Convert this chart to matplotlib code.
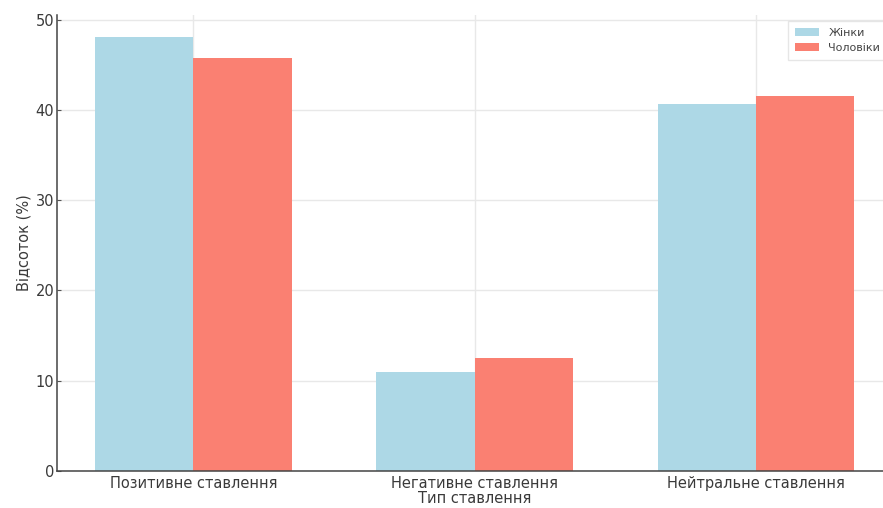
import matplotlib
matplotlib.use("Agg")
import matplotlib.pyplot as plt
import numpy as np

categories = ["Позитивне ставлення", "Негативне ставлення", "Нейтральне ставлення"]
women = [48.1, 11.0, 40.7]
men = [45.8, 12.5, 41.6]
series_names = ["Жінки", "Чоловіки"]

fig = plt.figure(figsize=(8.83, 5.08), dpi=100)
ax = fig.add_axes([0.0646, 0.0735, 0.946, 0.896])

x = np.arange(len(categories))
w = 0.35
ax.bar(x - w / 2, women, w, color="#ADD8E6", label=series_names[0], zorder=2)
ax.bar(x + w / 2, men, w, color="#FA8072", label=series_names[1], zorder=2)

ax.set_xticks(x)
ax.set_xticklabels(categories, fontsize=10.5, color="#3a3a3a")
ax.tick_params(axis="y", labelsize=10.5, labelcolor="#3a3a3a", length=3,
               direction="in", color="#555555", pad=2)
ax.tick_params(axis="x", length=0, pad=4)
ax.set_xlabel("Тип ставлення", fontsize=10.5, color="#3a3a3a", labelpad=0)
ax.set_ylabel("Відсоток (%)", fontsize=10.5, color="#3a3a3a", labelpad=3)
ax.set_yticks([0, 10, 20, 30, 40, 50])

ax.grid(True, color="#e8e8e8", linewidth=1, zorder=0)
ax.set_axisbelow(True)
for s in ["top", "right"]:
    ax.spines[s].set_visible(False)
for s in ["left", "bottom"]:
    ax.spines[s].set_color("#444444")
    ax.spines[s].set_linewidth(1.1)

leg = ax.legend(loc="upper right", fontsize=8, frameon=True, fancybox=False,
                edgecolor="#e0e0e0", borderpad=0.6, handlelength=2.2)
for t in leg.get_texts():
    t.set_color("#444444")

fig.savefig("out.png", dpi=100)
